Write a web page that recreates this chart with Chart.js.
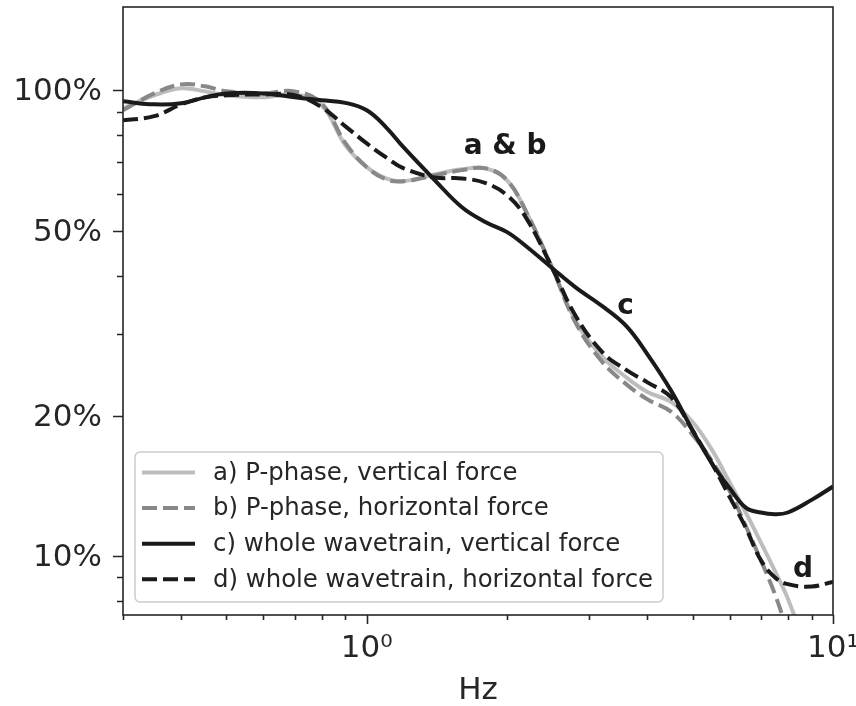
<!DOCTYPE html>
<html>
<head>
<meta charset="utf-8">
<script src="https://cdn.jsdelivr.net/npm/chart.js@4.4.1/dist/chart.umd.min.js"></script>
<style>
  html, body { margin: 0; padding: 0; background: #fff; }
  #wrap { width: 856px; height: 706px; }
</style>
</head>
<body>
<div id="wrap"><canvas id="chart"></canvas></div>
<script>
// frequencies (Hz) shared by all curves
const freqs = [0.3, 0.35, 0.4, 0.45, 0.5, 0.6, 0.7, 0.8, 0.9, 1.0, 1.1, 1.2, 1.4, 1.6, 1.8, 2.0,
               2.2, 2.5, 2.8, 3.2, 3.6, 4.0, 4.5, 5.0, 5.5, 6.0, 6.5, 7.0, 7.5, 8.0, 9.0, 10];

// values in percent
const pPhaseVert  = [91.5, 97.6, 101.0, 99.5, 97.6, 96.6, 98.0, 92.9, 76.2, 68.4, 64.7, 63.8, 66.0, 67.7, 68.0, 64.1,
                     54.7, 41.5, 32.1, 26.8, 24.2, 22.5, 21.4, 19.4, 16.9, 14.4, 12.4, 10.7, 9.3, 8.1, 5.9, null];
const pPhaseHoriz = [90.6, 98.5, 103.0, 102.0, 99.5, 98.5, 99.5, 93.8, 77.0, 68.4, 64.4, 63.8, 65.7, 67.4, 68.0, 64.1,
                     54.7, 41.5, 31.8, 26.1, 23.4, 21.7, 20.4, 18.2, 16.0, 13.8, 11.6, 9.8, 8.3, 6.9, 5.1, null];
const wholeVert   = [94.7, 93.3, 93.8, 96.6, 98.5, 98.5, 96.6, 95.2, 94.0, 90.6, 83.3, 75.4, 64.1, 56.1, 52.1, 49.6,
                     46.2, 41.5, 37.8, 34.4, 31.2, 27.1, 22.6, 18.6, 15.8, 14.0, 12.7, 12.4, 12.3, 12.4, 13.2, 14.1];
const wholeHoriz  = [86.2, 88.0, 93.3, 96.6, 97.6, 98.0, 97.6, 92.0, 83.7, 76.9, 71.8, 68.0, 65.0, 64.7, 63.2, 59.5,
                     53.1, 41.5, 32.9, 27.4, 25.1, 23.6, 21.9, 18.6, 15.8, 13.4, 11.5, 9.8, 9.0, 8.7, 8.6, 8.8];

const seriesNames = [
  'a) P-phase, vertical force',
  'b) P-phase, horizontal force',
  'c) whole wavetrain, vertical force',
  'd) whole wavetrain, horizontal force'
];

// axis ticks
const xTicks = [0.3, 0.4, 0.5, 0.6, 0.7, 0.8, 0.9, 1, 2, 3, 4, 5, 6, 7, 8, 9, 10];
const xTickLabels = { 1: '10\u2070', 10: '10\u00b9' };
const yTicks = [8, 9, 10, 20, 30, 40, 50, 60, 70, 80, 90, 100];
const yTickLabels = { 10: '10%', 20: '20%', 50: '50%', 100: '100%' };

// curve labels (text, Hz, percent)
const curveNotes = [
  ['a & b', 1.98, 72.9],
  ['c', 3.59, 33.1],
  ['d', 8.62, 9.0]
];

const FONT = "'DejaVu Sans', sans-serif";
const INK = '#262626';

function pts(vals) {
  return freqs.map((f, i) => ({ x: f, y: vals[i] }));
}

const styles = [
  { color: '#bdbdbd', dash: [] },
  { color: '#888888', dash: [15, 6] },
  { color: '#1a1a1a', dash: [] },
  { color: '#1a1a1a', dash: [15, 6] }
];
const allSeries = [pPhaseVert, pPhaseHoriz, wholeVert, wholeHoriz];

// frame, tick marks, legend and curve labels
const axisFrame = {
  id: 'axisFrame',
  afterDatasetsDraw(chart) {
    const ctx = chart.ctx, a = chart.chartArea;
    const xs = chart.scales.x, ys = chart.scales.y;
    ctx.save();
    ctx.strokeStyle = INK;
    ctx.lineWidth = 1.6;
    ctx.strokeRect(a.left, a.top, a.right - a.left, a.bottom - a.top);
    ctx.beginPath();
    xTicks.forEach(v => {
      const px = Math.round(xs.getPixelForValue(v)) + 0.5;
      const len = xTickLabels[v] ? 9 : 5;
      ctx.moveTo(px, a.bottom);
      ctx.lineTo(px, a.bottom + len);
    });
    yTicks.forEach(v => {
      const py = Math.round(ys.getPixelForValue(v)) + 0.5;
      const len = yTickLabels[v] ? 10 : 6;
      ctx.moveTo(a.left, py);
      ctx.lineTo(a.left - len, py);
    });
    ctx.stroke();
    ctx.restore();
  },
  afterDraw(chart) {
    const ctx = chart.ctx, a = chart.chartArea;
    const xs = chart.scales.x, ys = chart.scales.y;
    ctx.save();
    // legend box
    const left = a.left + 12, top = a.bottom - 163;
    const w = 528, h = 150;
    ctx.fillStyle = 'rgba(255,255,255,0.8)';
    ctx.strokeStyle = '#cccccc';
    ctx.lineWidth = 1.5;
    ctx.beginPath();
    ctx.roundRect(left, top, w, h, 5);
    ctx.fill();
    ctx.stroke();
    ctx.font = '24.4px ' + FONT;
    ctx.textBaseline = 'middle';
    ctx.textAlign = 'left';
    seriesNames.forEach((name, i) => {
      const y = top + 20.5 + i * 35.6;
      ctx.strokeStyle = styles[i].color;
      ctx.lineWidth = 4;
      ctx.setLineDash(styles[i].dash);
      ctx.beginPath();
      ctx.moveTo(left + 7, y);
      ctx.lineTo(left + 60, y);
      ctx.stroke();
      ctx.setLineDash([]);
      ctx.fillStyle = INK;
      ctx.fillText(name, left + 78, y + 1);
    });
    // curve labels
    ctx.font = 'bold 28px ' + FONT;
    ctx.textAlign = 'center';
    ctx.textBaseline = 'alphabetic';
    ctx.fillStyle = '#1a1a1a';
    curveNotes.forEach(([t, f, v]) => {
      ctx.fillText(t, xs.getPixelForValue(f), ys.getPixelForValue(v));
    });
    ctx.restore();
  }
};

new Chart(document.getElementById('chart'), {
  type: 'line',
  data: {
    datasets: allSeries.map((vals, i) => ({
      label: seriesNames[i],
      data: pts(vals),
      borderColor: styles[i].color,
      borderDash: styles[i].dash,
      borderWidth: 4,
      pointRadius: 0,
      fill: false,
      tension: 0.4,
      clip: 0,
      order: 4 - i
    }))
  },
  options: {
    responsive: true,
    maintainAspectRatio: false,
    animation: false,
    layout: { padding: { top: 7, right: 23, left: 0, bottom: 0 } },
    plugins: { legend: { display: false }, tooltip: { enabled: false } },
    scales: {
      x: {
        type: 'logarithmic',
        min: 0.3,
        max: 10,
        afterBuildTicks: s => { s.ticks = xTicks.map(v => ({ value: v })); },
        afterFit: s => { s.height = 91; s.paddingLeft = 0; s.paddingRight = 0; },
        ticks: {
          autoSkip: false,
          maxRotation: 0,
          padding: 15,
          color: INK,
          font: { family: FONT, size: 31 },
          callback: v => xTickLabels[v] || ''
        },
        grid: { display: false, drawTicks: false },
        border: { display: false },
        title: {
          display: true,
          text: 'Hz',
          color: INK,
          font: { family: FONT, size: 31 },
          padding: { top: 0, bottom: -4 }
        }
      },
      y: {
        type: 'logarithmic',
        min: 7.47,
        max: 151,
        afterBuildTicks: s => { s.ticks = yTicks.map(v => ({ value: v })); },
        afterFit: s => { s.width = 123; s.paddingTop = 0; s.paddingBottom = 0; },
        ticks: {
          autoSkip: false,
          padding: 21,
          labelOffset: 2,
          color: INK,
          font: { family: FONT, size: 31 },
          callback: v => yTickLabels[v] || ''
        },
        grid: { display: false, drawTicks: false },
        border: { display: false }
      }
    }
  },
  plugins: [axisFrame]
});
</script>
</body>
</html>
